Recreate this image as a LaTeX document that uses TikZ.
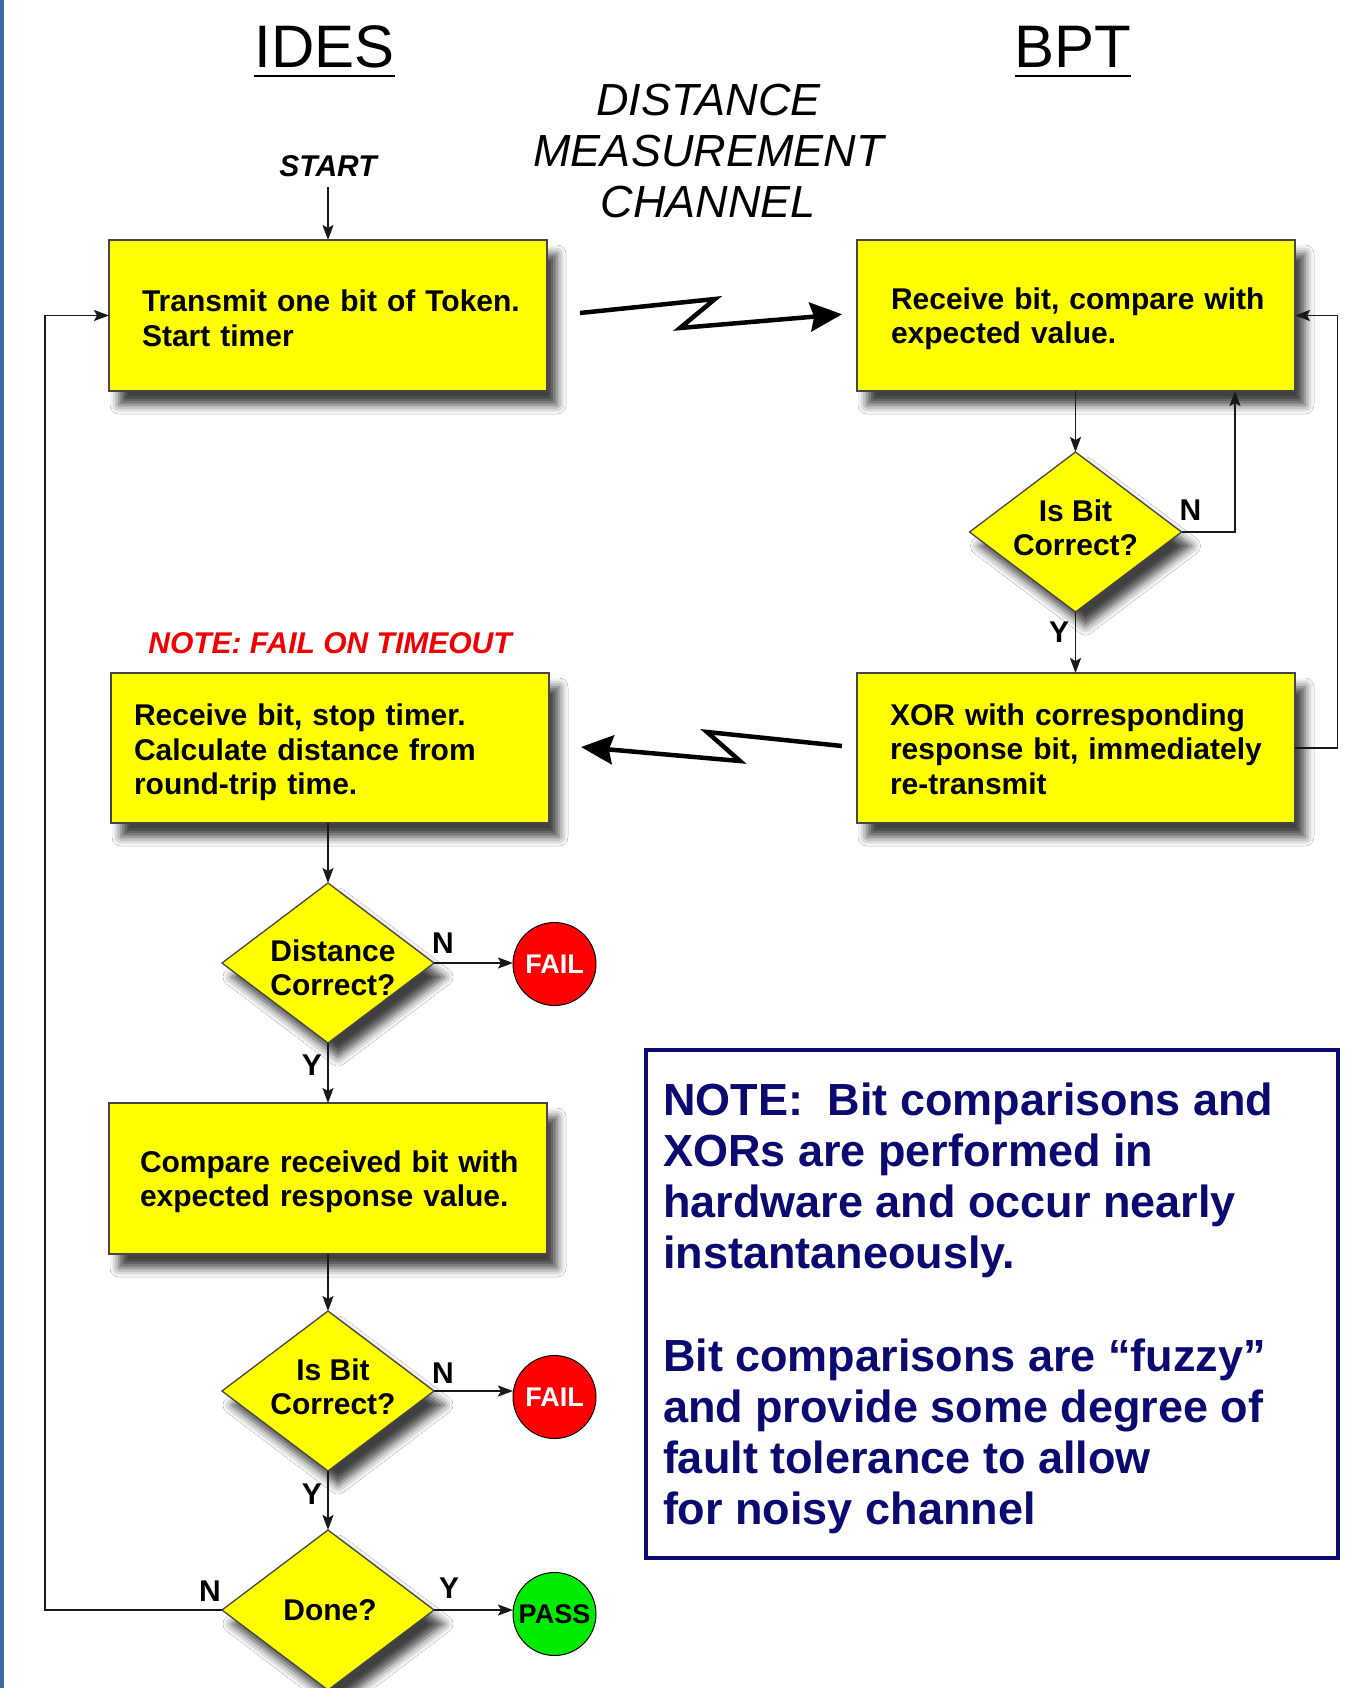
\documentclass[tikz,border=0pt]{standalone}
\usepackage{fontspec}
\setmainfont{Liberation Sans}
\usetikzlibrary{shapes.geometric,arrows.meta,calc,shadows.blur}

\definecolor{boxyellow}{RGB}{255,255,0}
\definecolor{notenavy}{RGB}{10,10,112}
\definecolor{failred}{RGB}{255,0,0}
\definecolor{passgreen}{RGB}{0,235,0}
\definecolor{edgebar}{RGB}{58,106,160}
\definecolor{boxedge}{RGB}{70,70,70}
\definecolor{timeoutred}{RGB}{240,0,0}

% left-aligned block of lines, indented from the box's left edge
\newcommand\boxlines[3][6pt]{\hspace*{#2}\parbox[c]{400pt}{\vspace*{#1}\raggedright #3}}

\begin{document}
\begin{tikzpicture}[x=1pt,y=-1pt,
  every node/.style={inner sep=0pt,outer sep=0pt},
  softshadow/.style={blur shadow={shadow xshift=10pt,shadow yshift=-14pt,
      shadow blur radius=9pt,shadow opacity=75}},
  stepbox/.style={rectangle,draw=boxedge,line width=1.5pt,fill=boxyellow,
      minimum height=151pt,text width=438pt,align=left,
      font=\fontsize{30}{34.5}\selectfont\bfseries,softshadow},
  decision/.style={diamond,draw=boxedge,line width=1.3pt,fill=boxyellow,
      minimum width=212pt,minimum height=160pt,softshadow},
  dtext/.style={align=center,font=\fontsize{30}{34}\selectfont\bfseries},
  endstate/.style={circle,draw=black,line width=1pt,minimum size=83pt,
      font=\fontsize{27}{30}\selectfont\bfseries},
  conn/.style={draw=black!90,line width=1.8pt,
      -{Stealth[length=15pt,width=11pt,inset=3pt]}},
  zap/.style={draw=black,line width=4.5pt,
      -{Stealth[length=32pt,width=29pt,inset=4pt]}},
  yn/.style={font=\fontsize{30}{30}\selectfont\bfseries,anchor=base},
  heading/.style={font=\fontsize{60}{60}\selectfont,anchor=base},
]

% page frame and left edge bar
\useasboundingbox (0,0) rectangle (1370,1688);
\fill[white] (0,0) rectangle (1370,1688);
\fill[edgebar] (0,0) rectangle (4,1688);

% column headings
\node[heading] (ides) at (324.5,68) {IDES};
\node[heading] (bpt) at (1073,68) {BPT};
\draw[line width=2.5pt] ([yshift=-8pt]ides.base west) -- ([yshift=-8pt]ides.base east);
\draw[line width=2.5pt] ([yshift=-8pt]bpt.base west) -- ([yshift=-8pt]bpt.base east);

\node[anchor=north,align=center,font=\fontsize{45}{51}\selectfont\itshape]
  (chan) at (708.5,84) {DISTANCE\\MEASUREMENT\\CHANNEL};

\node[anchor=base,font=\fontsize{30}{30}\selectfont\bfseries\itshape]
  (start) at (328,177) {START};

\node[anchor=base,text=timeoutred,font=\fontsize{30}{30}\selectfont\bfseries\itshape]
  (timeout) at (330,653) {NOTE: FAIL ON TIMEOUT};

% process boxes
\node[stepbox] (box1) at (328,315.5)
  {\boxlines{33pt}{Transmit one bit of Token.\\Start timer}};
\node[stepbox] (box2) at (1076,315.5)
  {\boxlines{34pt}{Receive bit, compare with\\expected value.}};
\node[stepbox,minimum height=150pt] (box3) at (330,748)
  {\boxlines[9pt]{23pt}{Receive bit, stop timer.\\Calculate distance from\\round-trip time.}};
\node[stepbox,minimum height=150pt] (box4) at (1076,748)
  {\boxlines[2pt]{33pt}{XOR with corresponding\\response bit, immediately\\re-transmit}};
\node[stepbox] (box5) at (328,1178.5)
  {\boxlines{31pt}{Compare received bit with\\expected response value.}};

% decisions
\node[decision] (d1) at (1075.5,532) {};
\node[decision] (d2) at (328,963) {};
\node[decision] (d3) at (328,1391) {};
\node[decision] (d4) at (328,1610) {};
\node[dtext] (d1t) at ([yshift=4.3pt]d1.center) {Is Bit\\Correct?};
\node[dtext] (d2t) at ([xshift=5pt,yshift=-4.3pt]d2.center) {Distance\\Correct?};
\node[dtext] (d3t) at ([xshift=5pt,yshift=4.3pt]d3.center) {Is Bit\\Correct?};
\node[dtext] (d4t) at ([xshift=2pt]d4.center) {Done?};

% end states
\node[endstate,fill=failred,text=white] (fail1) at (554.5,964) {FAIL};
\node[endstate,fill=failred,text=white] (fail2) at (554.5,1397) {FAIL};
\node[endstate,fill=passgreen,text=black] (pass) at (554.5,1614) {PASS};

% routing columns for the loop-back lines
\coordinate (loopL) at (45,0);
\coordinate (loopN) at (1235,0);
\coordinate (loopR) at (1337.5,0);

% connectors
\draw[conn,shorten <=10pt] (start.south) -- (box1.north);
\draw[conn] (box2.south -| d1.north) -- (d1.north);
\draw[conn] (d1.east) -- (d1.east -| loopN) -- (loopN |- box2.south);
\draw[conn] (d1.south) -- (d1.south |- box4.north);
\draw[conn] (box4.east) -- (box4.east -| loopR) |- (box2.east);
\draw[conn] (box3.south -| d2.north) -- (d2.north);
\draw[conn] (d2.east) -- (d2.east -| fail1.west);
\draw[conn] (d2.south) -- (d2.south |- box5.north);
\draw[conn] (box5.south -| d3.north) -- (d3.north);
\draw[conn] (d3.east) -- (d3.east -| fail2.west);
\draw[conn] (d3.south) -- (d4.north);
\draw[conn] (d4.east) -- (d4.east -| pass.west);
\draw[conn] (d4.west) -- (d4.west -| loopL) |- (box1.west);

% radio links across the measurement channel
\draw[zap,shorten >=15pt] ($(box1.east)+(33,-2.5)$) -- ++(135,-14) -- ++(-35,29)
  -- ($(box2.west)+(0,-2.5)$);
\draw[zap] ($(box4.west)+(-15,-2)$) -- ++(-135,-14) -- ++(33,29)
  -- ($(box3.east)+(32,-1)$);

% branch labels
\node[yn] (n1) at (1190.5,520) {N};
\node[yn] (y1) at (1059,642) {Y};
\node[yn] (n2) at (443,953) {N};
\node[yn] (y2) at (312,1075) {Y};
\node[yn] (n3) at (443,1383) {N};
\node[yn] (y3) at (312,1504) {Y};
\node[yn] (n4) at (210,1601) {N};
\node[yn] (y4) at (449,1598) {Y};

% hardware note
\draw[notenavy,line width=3.5pt] (646,1050) rectangle (1338,1558);
\node[anchor=north west,align=left,text=notenavy,
  font=\fontsize{45}{51.1}\selectfont\bfseries] (note) at (663,1083)
  {NOTE:\ \ Bit comparisons and\\XORs are performed in\\hardware and occur nearly\\instantaneously.\\[51.1pt]Bit comparisons are “fuzzy”\\and provide some degree of\\fault tolerance to allow\\for noisy channel};

\end{tikzpicture}
\end{document}
